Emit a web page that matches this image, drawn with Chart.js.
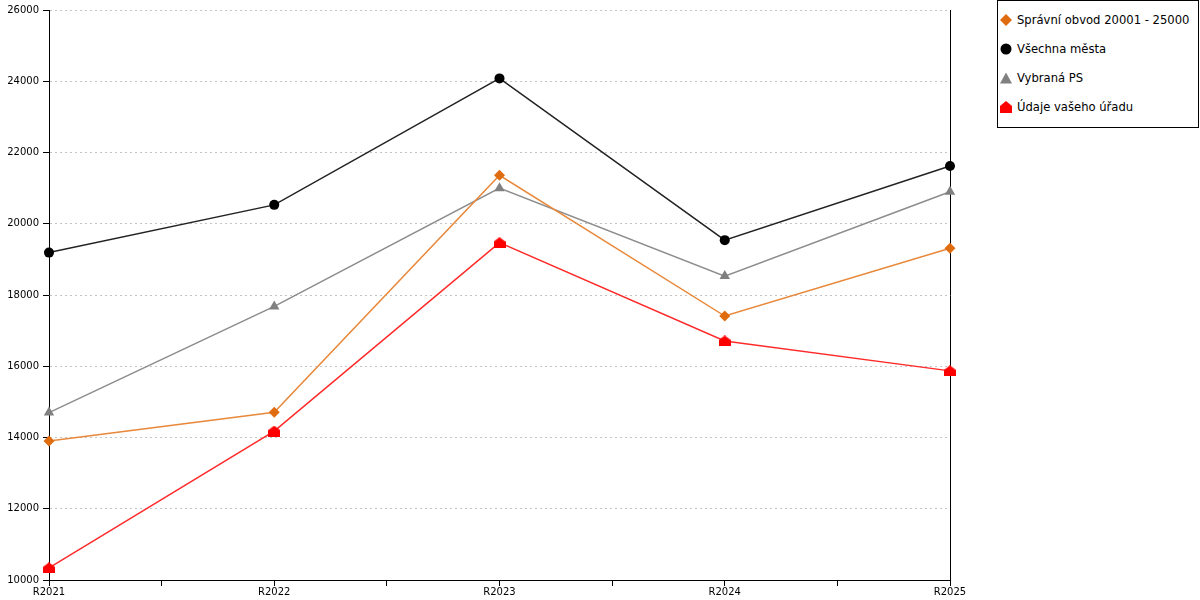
<!DOCTYPE html>
<html>
<head>
<meta charset="utf-8">
<script src="https://cdn.jsdelivr.net/npm/chart.js@4"></script>
<style>
  body { margin: 0; background: #fff; }
  #wrap { position: relative; width: 1200px; height: 600px; }
  #legend {
    position: absolute; left: 997px; top: 0; width: 200px; height: 122px;
    border: 1px solid #000; background: #fff; padding-top: 4px; box-sizing: content-box;
    font-family: 'DejaVu Sans', sans-serif; font-size: 11.6px; color: #000;
  }
  #legend .row { height: 29px; display: flex; align-items: center; white-space: nowrap; }
  #legend svg { margin-left: 2px; margin-right: 5px; flex: none; }
</style>
</head>
<body>
<div id="wrap">
  <canvas id="myChart" width="1200" height="600"></canvas>
  <div id="legend"></div>
</div>
<script>
// data
const categories = ['R2021', 'R2022', 'R2023', 'R2024', 'R2025'];
const seriesNames = ['Správní obvod 20001 - 25000', 'Všechna města', 'Vybraná PS', 'Údaje vašeho úřadu'];
const spravniObvod = [13900, 14710, 21360, 17410, 19310];
const vsechnaMesta = [19190, 20530, 24080, 19540, 21620];
const vybranaPS = [14700, 17680, 21000, 18530, 20900];
const vasUrad = [10340, 14180, 19470, 16710, 15870];
const yTicks = [10000, 12000, 14000, 16000, 18000, 20000, 22000, 24000, 26000];

// red "house" marker
function houseMarker(color) {
  const c = document.createElement('canvas');
  c.width = 12;
  c.height = 11;
  const g = c.getContext('2d');
  g.fillStyle = color;
  g.beginPath();
  g.moveTo(0, 4.5);
  g.lineTo(6, 0);
  g.lineTo(12, 4.5);
  g.lineTo(12, 11);
  g.lineTo(0, 11);
  g.closePath();
  g.fill();
  return c;
}

const toPoints = (arr) => arr.map((v, i) => ({ x: i, y: v }));

const series = [
  { values: spravniObvod, line: '#E8883A', marker: '#E06C10', style: 'rectRot', radius: 5.5, svg: '<path d="M6 0 L12 6 L6 12 L0 6 Z"/>' },
  { values: vsechnaMesta, line: '#222222', marker: '#000000', style: 'circle', radius: 5, svg: '<circle cx="6" cy="6" r="5.5"/>' },
  { values: vybranaPS, line: '#8C8C8C', marker: '#808080', style: 'triangle', radius: 6, svg: '<path d="M6 0.5 L12 11.5 L0 11.5 Z"/>' },
  { values: vasUrad, line: '#FF2A2A', marker: '#FF0000', style: houseMarker('#FF0000'), radius: 6, svg: '<path d="M0 5 L6 0 L12 5 L12 12 L0 12 Z"/>' }
];

const datasets = series.map((s, i) => ({
  label: seriesNames[i],
  data: toPoints(s.values),
  borderColor: s.line,
  borderWidth: 1.5,
  backgroundColor: s.marker,
  pointBackgroundColor: s.marker,
  pointBorderColor: s.marker,
  pointBorderWidth: 0,
  pointStyle: s.style,
  pointRadius: s.radius,
  tension: 0,
  clip: false
}));

// html legend
const legendEl = document.getElementById('legend');
series.forEach((s, i) => {
  const row = document.createElement('div');
  row.className = 'row';
  row.innerHTML = '<svg width="12" height="12" viewBox="0 0 12 12" fill="' + s.marker + '">' + s.svg + '</svg><span>' + seriesNames[i] + '</span>';
  legendEl.appendChild(row);
});

const tickFont = { family: 'DejaVu Sans', size: 10 };

new Chart(document.getElementById('myChart'), {
  type: 'line',
  data: { datasets: datasets },
  options: {
    responsive: false,
    animation: false,
    layout: { padding: { left: 0, top: 10, right: 250, bottom: 0 } },
    plugins: { legend: { display: false }, tooltip: { enabled: false } },
    scales: {
      x: {
        type: 'linear',
        min: 0,
        max: categories.length - 1,
        afterBuildTicks: (scale) => {
          const t = [];
          for (let v = 0; v <= categories.length - 1; v += 0.5) t.push({ value: v });
          scale.ticks = t;
        },
        ticks: {
          autoSkip: false,
          maxRotation: 0,
          padding: 0,
          color: '#000',
          font: tickFont,
          callback: (v) => Number.isInteger(v) ? categories[v] : ''
        },
        grid: { drawOnChartArea: false, drawTicks: true, tickLength: 6, tickColor: '#000' },
        border: { color: '#000', width: 1 },
        afterFit: (s) => { s.height = 20; }
      },
      y: {
        min: yTicks[0],
        max: yTicks[yTicks.length - 1],
        afterBuildTicks: (scale) => { scale.ticks = yTicks.map(v => ({ value: v })); },
        ticks: { color: '#000', font: tickFont, padding: 4, callback: (v) => String(v) },
        grid: { color: '#c4c4c4', tickLength: 6, tickColor: '#000', tickBorderDash: [] },
        border: { color: '#000', width: 1, dash: [2, 3] },
        afterFit: (s) => { s.width = 49; }
      },
      y2: {
        position: 'right',
        min: yTicks[0],
        max: yTicks[yTicks.length - 1],
        ticks: { display: false },
        grid: { display: false, drawTicks: false },
        border: { display: true, color: '#000', width: 1 },
        afterFit: (s) => { s.width = 0; }
      }
    }
  }
});
</script>
</body>
</html>
